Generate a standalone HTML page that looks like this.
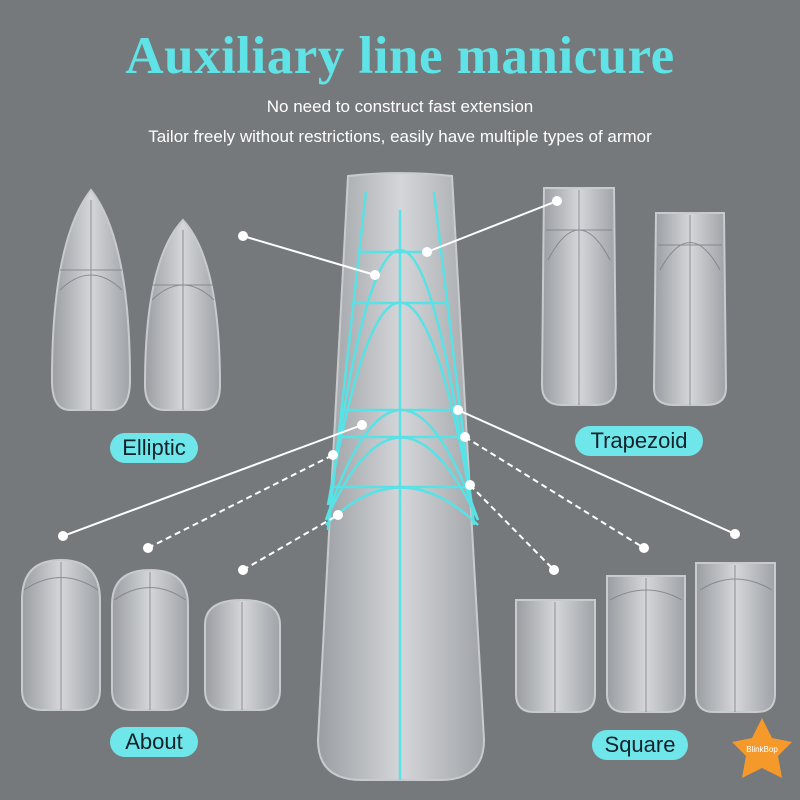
<!DOCTYPE html>
<html><head><style>
body{margin:0;width:800px;height:800px;background:#76797c;overflow:hidden;position:relative;font-family:"Liberation Sans",sans-serif}
.t{position:absolute;left:0;width:800px;text-align:center}
.pill{position:absolute;background:#6fe6ea;border-radius:15px;color:#14222a;font-size:22px;text-align:center;line-height:30px}
</style></head><body>
<div class="t" style="top:26px;font-family:'Liberation Serif',serif;font-weight:bold;font-size:53px;color:#5fe3e6;letter-spacing:0.5px">Auxiliary line manicure</div>
<div class="t" style="top:97px;font-size:17px;color:#fff">No need to construct fast extension</div>
<div class="t" style="top:127px;font-size:17px;color:#fff">Tailor freely without restrictions, easily have multiple types of armor</div>
<svg width="800" height="800" style="position:absolute;left:0;top:0">
<defs>
<linearGradient id="g" x1="0" x2="1"><stop offset="0" stop-color="#9a9da1"/><stop offset="0.5" stop-color="#d4d6d9"/><stop offset="1" stop-color="#9fa2a6"/></linearGradient>
</defs>
<g fill="url(#g)" stroke="#c8cacd" stroke-width="2">
<path d="M348 176 Q400 170 452 176 L484 740 Q484 780 440 780 L362 780 Q318 780 318 740 Z"/>
<path d="M91 190 Q52 240 52 380 Q52 410 70 410 L112 410 Q130 410 130 380 Q130 240 91 190 Z"/>
<path d="M183 220 Q145 260 145 385 Q145 410 165 410 L202 410 Q220 410 220 385 Q220 260 183 220 Z"/>
<path d="M544 188 L614 188 L616 385 Q616 405 596 405 L562 405 Q542 405 542 385 Z"/>
<path d="M656 213 L724 213 L726 388 Q726 405 706 405 L674 405 Q654 405 654 388 Z"/>
<path d="M22 600 Q22 560 61 560 Q100 560 100 600 L100 690 Q100 710 80 710 L42 710 Q22 710 22 690 Z"/>
<path d="M112 605 Q112 570 150 570 Q188 570 188 605 L188 690 Q188 710 168 710 L132 710 Q112 710 112 690 Z"/>
<path d="M205 625 Q205 600 242 600 Q280 600 280 625 L280 690 Q280 710 260 710 L225 710 Q205 710 205 690 Z"/>
<path d="M516 600 L595 600 L595 694 Q595 712 577 712 L534 712 Q516 712 516 694 Z"/>
<path d="M607 576 L685 576 L685 694 Q685 712 667 712 L625 712 Q607 712 607 694 Z"/>
<path d="M696 563 L775 563 L775 694 Q775 712 757 712 L714 712 Q696 712 696 694 Z"/>
</g>
<g stroke="#7a7d82" stroke-width="1" fill="none" opacity="0.8">
<line x1="91" y1="200" x2="91" y2="410"/><line x1="183" y1="230" x2="183" y2="410"/>
<line x1="579" y1="190" x2="579" y2="405"/><line x1="690" y1="215" x2="690" y2="405"/>
<line x1="61" y1="562" x2="61" y2="710"/><line x1="150" y1="572" x2="150" y2="710"/><line x1="242" y1="602" x2="242" y2="710"/>
<line x1="555" y1="602" x2="555" y2="712"/><line x1="646" y1="578" x2="646" y2="712"/><line x1="735" y1="565" x2="735" y2="712"/>
<path d="M60 290 Q91 260 122 290 M60 270 H122 M152 300 Q183 270 214 300 M150 285 H216 M548 260 Q579 200 610 260 M546 230 H612 M660 270 Q690 215 720 270 M658 245 H722 M24 590 Q61 565 98 590 M114 600 Q150 575 186 600 M610 600 Q646 580 682 600 M700 590 Q735 568 772 590"/>
</g>
<g stroke="#58e2e6" stroke-width="2.5" fill="none">
<line x1="400" y1="210" x2="400" y2="780"/>
<line x1="366" y1="192" x2="328" y2="530"/>
<line x1="434" y1="192" x2="474" y2="525"/>
<line x1="360" y1="252" x2="432" y2="252"/>
<line x1="353" y1="303" x2="445" y2="303"/>
<line x1="345" y1="410" x2="460" y2="410"/>
<line x1="340" y1="437" x2="465" y2="437"/>
<line x1="330" y1="487" x2="470" y2="487"/>
<path d="M330 500 Q400 0 470 500"/>
<path d="M328 505 Q400 100 472 505"/>
<path d="M326 520 Q400 300 478 520"/>
<path d="M326 520 Q400 355 478 520"/>
<path d="M326 525 Q400 450 478 525"/>
</g>
<g stroke="#fff" stroke-width="2" fill="#fff">
<line x1="243" y1="236" x2="375" y2="275"/>
<line x1="427" y1="252" x2="557" y2="201"/>
<line x1="63" y1="536" x2="362" y2="425"/>
<line x1="148" y1="548" x2="333" y2="455" stroke-dasharray="6 4"/>
<line x1="243" y1="570" x2="338" y2="515" stroke-dasharray="6 4"/>
<line x1="458" y1="410" x2="735" y2="534"/>
<line x1="465" y1="437" x2="644" y2="548" stroke-dasharray="6 4"/>
<line x1="470" y1="485" x2="554" y2="570" stroke-dasharray="6 4"/>
<g stroke="none">
<circle cx="243" cy="236" r="5"/><circle cx="375" cy="275" r="5"/><circle cx="427" cy="252" r="5"/><circle cx="557" cy="201" r="5"/>
<circle cx="63" cy="536" r="5"/><circle cx="362" cy="425" r="5"/><circle cx="148" cy="548" r="5"/><circle cx="333" cy="455" r="5"/>
<circle cx="243" cy="570" r="5"/><circle cx="338" cy="515" r="5"/><circle cx="458" cy="410" r="5"/><circle cx="735" cy="534" r="5"/>
<circle cx="465" cy="437" r="5"/><circle cx="644" cy="548" r="5"/><circle cx="470" cy="485" r="5"/><circle cx="554" cy="570" r="5"/>
</g></g>
<path d="M762 718 L772 738 L792 742 L778 756 L782 778 L762 768 L742 778 L746 756 L732 742 L752 738 Z" fill="#f59a2a"/>
<text x="762" y="752" font-size="8" fill="#fff" text-anchor="middle" font-family="Liberation Sans">BlinkBop</text>
</svg>
<div class="pill" style="left:110px;top:433px;width:88px">Elliptic</div>
<div class="pill" style="left:575px;top:426px;width:128px">Trapezoid</div>
<div class="pill" style="left:110px;top:727px;width:88px">About</div>
<div class="pill" style="left:592px;top:730px;width:96px">Square</div>
</body></html>
